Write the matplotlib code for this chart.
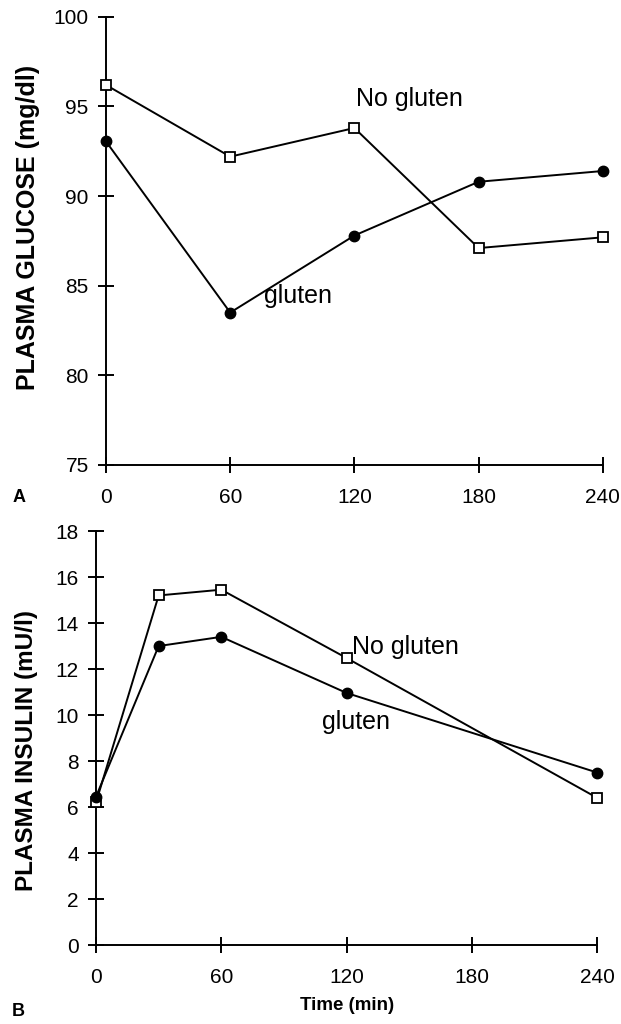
import matplotlib
matplotlib.use("Agg")
import matplotlib.pyplot as plt

plt.rcParams['font.family'] = ['Liberation Sans', 'DejaVu Sans']

# panel A - plasma glucose (mg/dl)
glu_time = [0, 60, 120, 180, 240]
glu_no_gluten = [96.2, 92.2, 93.8, 87.1, 87.7]
glu_gluten = [93.05, 83.5, 87.8, 90.8, 91.4]

# panel B - plasma insulin (mU/l)
ins_time = [0, 30, 60, 120, 240]
ins_no_gluten = [6.2, 15.2, 15.45, 12.48, 6.4]
ins_gluten = [6.45, 13.0, 13.4, 10.96, 7.5]

x_ticks = [0, 60, 120, 180, 240]
glu_ticks = [75, 80, 85, 90, 95, 100]
ins_ticks = [0, 2, 4, 6, 8, 10, 12, 14, 16, 18]

fig = plt.figure(figsize=(6.21, 10.24), dpi=100)
ax1 = fig.add_axes([0.1707, 0.546, 0.800, 0.4375])
ax2 = fig.add_axes([0.1546, 0.0771, 0.807, 0.4043])


def style(ax):
    for s in ['top', 'right']:
        ax.spines[s].set_visible(False)
    for s in ['left', 'bottom']:
        ax.spines[s].set_linewidth(1.4)
    ax.tick_params(axis='both', direction='inout', length=11, width=1.4,
                   labelsize=15)
    ax.tick_params(axis='x', pad=11)
    ax.tick_params(axis='y', pad=7)


def draw(ax, t, no_g, g):
    ax.plot(t, no_g, color='black', lw=1.4, marker='s', ms=7,
            mfc='white', mec='black', mew=1.3, clip_on=False, zorder=3)
    ax.plot(t, g, color='black', lw=1.4, marker='o', ms=7.5,
            mfc='black', mec='black', clip_on=False, zorder=3)


draw(ax1, glu_time, glu_no_gluten, glu_gluten)
ax1.set_xlim(0, 240)
ax1.set_ylim(75, 100)
ax1.set_xticks(x_ticks)
ax1.set_yticks(glu_ticks)
style(ax1)
ax1.set_ylabel('PLASMA GLUCOSE (mg/dl)', fontsize=18, fontweight='bold', va='center')
ax1.yaxis.set_label_coords(-0.158, 0.531)
ax1.text(121, 95.4, 'No gluten', fontsize=18, va='center', ha='left')
ax1.text(76.5, 84.4, 'gluten', fontsize=18, va='center', ha='left')

draw(ax2, ins_time, ins_no_gluten, ins_gluten)
ax2.set_xlim(0, 240)
ax2.set_ylim(0, 18)
ax2.set_xticks(x_ticks)
ax2.set_yticks(ins_ticks)
style(ax2)
ax2.set_ylabel('PLASMA INSULIN (mU/l)', fontsize=17.5, fontweight='bold', va='center')
ax2.yaxis.set_label_coords(-0.139, 0.471)
ax2.set_xlabel('Time (min)', fontsize=13.5, fontweight='bold', labelpad=7)
ax2.text(122.5, 12.95, 'No gluten', fontsize=18, va='center', ha='left')
ax2.text(108, 9.7, 'gluten', fontsize=18, va='center', ha='left')

fig.text(0.021, 0.514, 'A', fontsize=13, fontweight='bold', va='center')
fig.text(0.019, 0.012, 'B', fontsize=13, fontweight='bold', va='center')

fig.savefig('out.png', dpi=100)
